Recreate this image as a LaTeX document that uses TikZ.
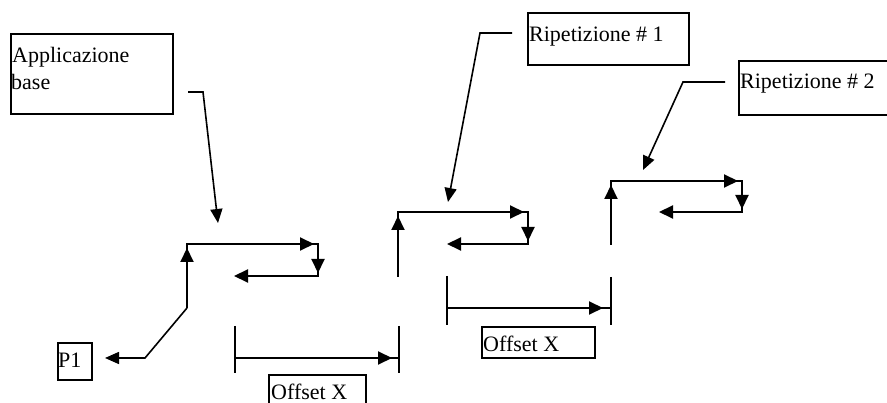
\documentclass[tikz,border=0pt]{standalone}
\usepackage{fontspec}
\setmainfont{Liberation Serif}
\usetikzlibrary{arrows.meta,calc}
\begin{document}
\begin{tikzpicture}[x=1pt,y=-1pt,
  txt/.style={font=\fontsize{22}{26}\selectfont, inner sep=0pt, anchor=base west},
  frame/.style={draw, line width=1.8pt, inner sep=0pt, anchor=north west},
  route/.style={line width=2pt, line join=miter},
  lead/.style={line width=1.6pt, -{Triangle[length=14pt,width=12pt]}},
  tip/.style={line width=2pt, -{Triangle[length=14pt,width=13pt]}},
  tick/.style={line width=2pt},
]
\useasboundingbox (0,0) rectangle (887,403);
\fill[white] (0,0) rectangle (887,403);
\clip (0,0) rectangle (887,403);

% ---- label frames and texts ----
\node[frame, minimum width=162pt, minimum height=80pt] (appbox) at (10,33) {};
\node[txt] (apptxt1) at (12,63) {Applicazione};
\node[txt] (apptxt2) at (11,90) {base};

\node[frame, minimum width=161pt, minimum height=52pt] (rep1box) at (527,12) {};
\node[txt] (rep1txt) at (529,42) {Ripetizione \# 1};

\node[frame, minimum width=165pt, minimum height=54pt] (rep2box) at (738,60) {};
\node[txt] (rep2txt) at (740,89) {Ripetizione \# 2};

\node[frame, minimum width=34pt, minimum height=37pt] (p1box) at (57,342) {};
\node[txt] (p1txt) at (58,368) {P1};

\node[frame, minimum width=97pt, minimum height=45pt] (off1box) at (268,374) {};
\node[txt] (off1txt) at (271,400) {Offset X};

\node[frame, minimum width=113pt, minimum height=31pt] (off2box) at (481,326) {};
\node[txt] (off2txt) at (483,352) {Offset X};

% ---- corner points of the three tool paths ----
\coordinate (s1a) at (187,308); \coordinate (s1b) at (187,244);
\coordinate (s1c) at (318,244); \coordinate (s1d) at (318,276);
\coordinate (s1e) at (234,276);

\coordinate (s2a) at (398,277); \coordinate (s2b) at (398,212);
\coordinate (s2c) at (528,212); \coordinate (s2d) at (528,244);
\coordinate (s2e) at (447,244);

\coordinate (s3a) at (611,245); \coordinate (s3b) at (611,181);
\coordinate (s3c) at (742,181); \coordinate (s3d) at (742,212);
\coordinate (s3e) at (659,212);

% ---- tool paths with direction arrows ----
\foreach \p in {s1,s2,s3}{
  \draw[route] (\p a) -- (\p b) -- (\p c) -- (\p d) -- ($(\p e)+(10,0)$);
  \draw[tip] ($(\p b)+(0,24)$) -- ($(\p b)+(0,4)$);
  \draw[tip] ($(\p c)+(-26,0)$) -- ($(\p c)+(-4,0)$);
  \draw[tip] ($(\p d)+(0,-22)$) -- ($(\p d)+(0,-3)$);
  \draw[tip] ($(\p e)+(16,0)$) -- (\p e);
}

% ---- leaders from the labels ----
\coordinate (appL0) at (188,92); \coordinate (appL1) at (203,92); \coordinate (appT) at (218,223);
\draw[lead] (appL0) -- (appL1) -- (appT);

\coordinate (r1L0) at (512,33); \coordinate (r1L1) at (480,33); \coordinate (r1T) at (448,202);
\draw[lead] (r1L0) -- (r1L1) -- (r1T);

\coordinate (r2L0) at (725,82); \coordinate (r2L1) at (683,82); \coordinate (r2T) at (643,170);
\draw[lead] (r2L0) -- (r2L1) -- (r2T);

\coordinate (p1K) at (145,358); \coordinate (p1T) at (105,358);
\draw[lead] (s1a) -- (p1K) -- (p1T);

% ---- offset dimensions ----
\coordinate (d1lt) at (235,326); \coordinate (d1lb) at (235,373);
\coordinate (d1rt) at (399,326); \coordinate (d1rb) at (399,373);
\coordinate (d1l) at (235,358); \coordinate (d1r) at (399,358);
\draw[tick] (d1lt) -- (d1lb);
\draw[tick] (d1rt) -- (d1rb);
\draw[tick] (d1l) -- (d1r);
\draw[tip] ($(d1r)+(-26,0)$) -- ($(d1r)+(-7,0)$);

\coordinate (d2lt) at (447,276); \coordinate (d2lb) at (447,325);
\coordinate (d2rt) at (611,277); \coordinate (d2rb) at (611,325);
\coordinate (d2l) at (447,308); \coordinate (d2r) at (611,308);
\draw[tick] (d2lt) -- (d2lb);
\draw[tick] (d2rt) -- (d2rb);
\draw[tick] (d2l) -- (d2r);
\draw[tip] ($(d2r)+(-26,0)$) -- ($(d2r)+(-8,0)$);
\end{tikzpicture}
\end{document}
